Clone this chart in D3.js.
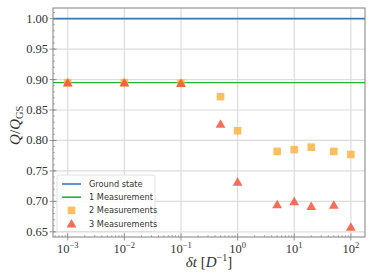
<!DOCTYPE html>
<html>
<head>
<meta charset="utf-8">
<script src="https://cdn.jsdelivr.net/npm/d3@7"></script>
<style>
  body { margin: 0; background: #fff; }
  .tick-label { font-family: "Liberation Serif", serif; font-size: 12.5px; fill: #333; }
  .legend-text { font-family: "DejaVu Sans", sans-serif; font-size: 8.2px; fill: #333; }
  .axis-title { font-family: "Liberation Serif", serif; font-size: 15px; fill: #333; }
</style>
</head>
<body>
<svg id="chart" width="374" height="280"></svg>
<script>
// Data
const dtValues = [0.001, 0.01, 0.1, 0.5, 1, 5, 10, 20, 50, 100];
const groundState = 1.0;
const oneMeasurement = 0.895;
const twoMeasurements = [0.895, 0.895, 0.894, 0.872, 0.816, 0.782, 0.785, 0.789, 0.782, 0.777];
const threeMeasurements = [0.895, 0.895, 0.894, 0.827, 0.732, 0.695, 0.700, 0.692, 0.694, 0.658];
const yTicks = [0.65, 0.70, 0.75, 0.80, 0.85, 0.90, 0.95, 1.00];
const xTickExps = [-3, -2, -1, 0, 1, 2];

// Layout
const margin = { top: 8, right: 9, bottom: 43, left: 53 };
const width = 374 - margin.left - margin.right;
const height = 280 - margin.top - margin.bottom;

const svg = d3.select("#chart");
const g = svg.append("g").attr("transform", `translate(${margin.left},${margin.top})`);

const x = d3.scaleLog().domain([Math.pow(10, -3.26), Math.pow(10, 2.25)]).range([0, width]);
const y = d3.scaleLinear().domain([0.6415, 1.0175]).range([height, 0]);

// Grid
g.selectAll(".hgrid").data(yTicks).enter().append("line")
    .attr("x1", 0).attr("x2", width)
    .attr("y1", d => y(d)).attr("y2", d => y(d))
    .style("stroke", "#dcdcdc").style("stroke-width", 1.2);
g.selectAll(".vgrid").data(xTickExps).enter().append("line")
    .attr("x1", d => x(Math.pow(10, d))).attr("x2", d => x(Math.pow(10, d)))
    .attr("y1", 0).attr("y2", height)
    .style("stroke", "#dcdcdc").style("stroke-width", 1.2);

// Horizontal reference lines
g.append("line")
    .attr("x1", 0).attr("x2", width)
    .attr("y1", y(groundState)).attr("y2", y(groundState))
    .style("stroke", "#3b78b2").style("stroke-width", 1.6);
g.append("line")
    .attr("x1", 0).attr("x2", width)
    .attr("y1", y(oneMeasurement)).attr("y2", y(oneMeasurement))
    .style("stroke", "#1fb33a").style("stroke-width", 1.4);

// Markers
const squareSym = d3.symbol().type(d3.symbolSquare).size(58);
const triSym = d3.symbol().type(d3.symbolTriangle).size(42);

g.selectAll(".sq").data(dtValues).enter().append("path")
    .attr("d", squareSym)
    .attr("transform", (d, i) => `translate(${x(d)},${y(twoMeasurements[i])})`)
    .style("fill", "#ffb347").style("opacity", 0.85);

g.selectAll(".tri").data(dtValues).enter().append("path")
    .attr("d", triSym)
    .attr("transform", (d, i) => `translate(${x(d)},${y(threeMeasurements[i]) + 1})`)
    .style("fill", "#f5553a").style("opacity", 0.85);

// Frame
g.append("rect")
    .attr("x", 0).attr("y", 0).attr("width", width).attr("height", height)
    .style("fill", "none").style("stroke", "#808080").style("stroke-width", 1);

// Y ticks
const yMinor = d3.range(0.65, 1.0101, 0.01);
g.selectAll(".yminor").data(yMinor).enter().append("line")
    .attr("x1", 0).attr("x2", 2)
    .attr("y1", d => y(d)).attr("y2", d => y(d))
    .style("stroke", "#808080").style("stroke-width", 0.6);
g.selectAll(".ymajor").data(yTicks).enter().append("line")
    .attr("x1", -3.5).attr("x2", 3.5)
    .attr("y1", d => y(d)).attr("y2", d => y(d))
    .style("stroke", "#808080").style("stroke-width", 0.8);
g.selectAll(".ylab").data(yTicks).enter().append("text")
    .attr("class", "tick-label")
    .attr("x", -5)
    .attr("y", d => y(d))
    .attr("text-anchor", "end")
    .attr("dominant-baseline", "central")
    .text(d => d.toFixed(2));

// X ticks
const xMinor = [];
for (let e = -4; e <= 2; e++) {
    for (let m = 2; m <= 9; m++) {
        const v = m * Math.pow(10, e);
        if (v >= x.domain()[0] && v <= x.domain()[1]) xMinor.push(v);
    }
}
g.selectAll(".xminor").data(xMinor).enter().append("line")
    .attr("x1", d => x(d)).attr("x2", d => x(d))
    .attr("y1", height).attr("y2", height - 2)
    .style("stroke", "#808080").style("stroke-width", 0.6);
g.selectAll(".xmajor").data(xTickExps).enter().append("line")
    .attr("x1", d => x(Math.pow(10, d))).attr("x2", d => x(Math.pow(10, d)))
    .attr("y1", height - 3.5).attr("y2", height + 3.5)
    .style("stroke", "#808080").style("stroke-width", 0.8);
const xLab = g.selectAll(".xlab").data(xTickExps).enter().append("text")
    .attr("class", "tick-label")
    .attr("x", d => x(Math.pow(10, d)))
    .attr("y", height + 15.5)
    .attr("text-anchor", "middle");
xLab.append("tspan").text("10");
xLab.append("tspan")
    .attr("dy", -5)
    .style("font-size", "8.5px")
    .text(d => (d < 0 ? "\u2212" : "") + Math.abs(d));

// Axis titles
const xt = g.append("text")
    .attr("class", "axis-title")
    .attr("x", width / 2)
    .attr("y", height + 30)
    .attr("text-anchor", "middle");
xt.append("tspan").style("font-style", "italic").text("\u03b4t");
xt.append("tspan").text(" [");
xt.append("tspan").style("font-style", "italic").text("D");
xt.append("tspan").attr("dy", -6).style("font-size", "10px").text("\u22121");
xt.append("tspan").attr("dy", 6).text("]");

const yt = svg.append("text")
    .attr("class", "axis-title")
    .attr("transform", `translate(20, ${margin.top + y(0.825)}) rotate(-90)`)
    .attr("text-anchor", "middle");
yt.append("tspan").style("font-style", "italic").text("Q");
yt.append("tspan").text("/");
yt.append("tspan").style("font-style", "italic").text("Q");
yt.append("tspan").attr("dy", 3).style("font-size", "10.5px").text("GS");

// Legend
const legendItems = [
    { label: "Ground state", type: "line", color: "#3b78b2" },
    { label: "1 Measurement", type: "line", color: "#1fb33a" },
    { label: "2 Measurements", type: "square", color: "#ffb347" },
    { label: "3 Measurements", type: "triangle", color: "#f5553a" }
];
const legend = svg.append("g").attr("transform", "translate(57, 175)");
legend.append("rect")
    .attr("x", 0).attr("y", 0).attr("width", 98).attr("height", 56.5)
    .attr("rx", 2)
    .style("fill", "#fff").style("fill-opacity", 0.85)
    .style("stroke", "#d8d8d8").style("stroke-width", 0.8);
legendItems.forEach((item, i) => {
    const cy = 9 + i * 13.2;
    if (item.type === "line") {
        legend.append("line")
            .attr("x1", 5).attr("x2", 24)
            .attr("y1", cy).attr("y2", cy)
            .style("stroke", item.color).style("stroke-width", 1.6);
    } else {
        legend.append("path")
            .attr("d", item.type === "square" ? squareSym : triSym)
            .attr("transform", `translate(14.5,${cy + (item.type === "triangle" ? 1 : 0)})`)
            .style("fill", item.color).style("opacity", 0.85);
    }
    legend.append("text")
        .attr("class", "legend-text")
        .attr("x", 32)
        .attr("y", cy)
        .attr("dominant-baseline", "central")
        .text(item.label);
});
</script>
</body>
</html>
